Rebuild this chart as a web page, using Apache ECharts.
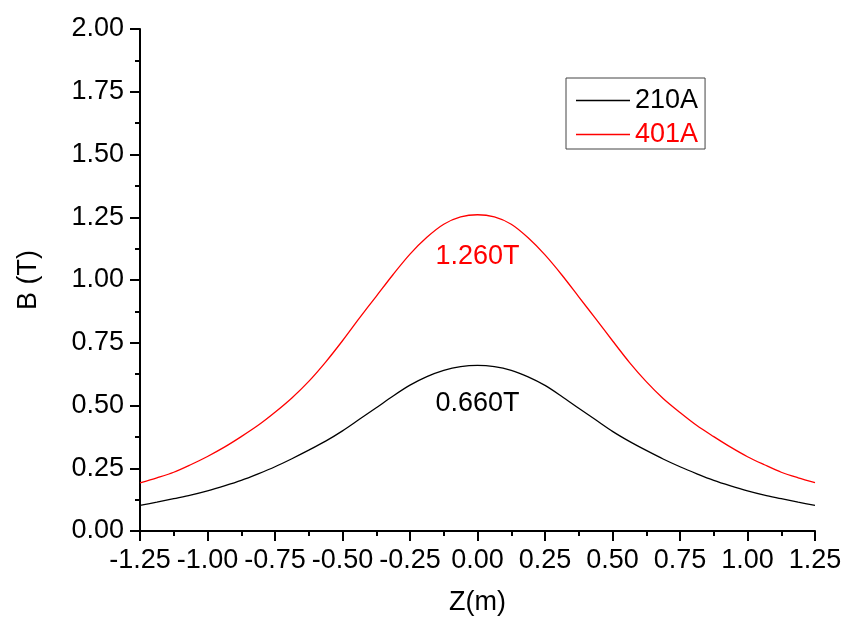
<!DOCTYPE html>
<html>
<head>
<meta charset="utf-8">
<script src="https://cdn.jsdelivr.net/npm/echarts@6/dist/echarts.min.js"></script>
<style>
html,body{margin:0;padding:0;background:#fff;}
#chart{width:846px;height:621px;}
</style>
</head>
<body>
<div id="chart"></div>
<script>
// Data
var zValues = [-1.25, -1.1875, -1.125, -1.0625, -1.0, -0.9375, -0.875, -0.8125, -0.75, -0.6875, -0.625, -0.5625, -0.5, -0.4375, -0.375, -0.3125, -0.25, -0.1875, -0.125, -0.0625, 0.0,
               0.0625, 0.125, 0.1875, 0.25, 0.3125, 0.375, 0.4375, 0.5, 0.5625, 0.625, 0.6875, 0.75, 0.8125, 0.875, 0.9375, 1.0, 1.0625, 1.125, 1.1875, 1.25];
var b210 = [0.102, 0.115, 0.129, 0.143, 0.160, 0.180, 0.202, 0.228, 0.256, 0.288, 0.322, 0.358, 0.399, 0.445, 0.491, 0.538, 0.581, 0.615, 0.640, 0.655, 0.660,
            0.655, 0.640, 0.614, 0.580, 0.536, 0.489, 0.443, 0.397, 0.357, 0.321, 0.287, 0.256, 0.228, 0.202, 0.180, 0.160, 0.143, 0.129, 0.115, 0.102];
var b401 = [0.192, 0.212, 0.234, 0.264, 0.297, 0.334, 0.376, 0.421, 0.473, 0.530, 0.596, 0.673, 0.758, 0.848, 0.935, 1.022, 1.103, 1.170, 1.222, 1.251, 1.260,
            1.251, 1.222, 1.168, 1.100, 1.020, 0.933, 0.846, 0.758, 0.672, 0.595, 0.528, 0.472, 0.420, 0.376, 0.334, 0.296, 0.264, 0.234, 0.212, 0.193];
var seriesNames = ['210A', '401A'];
var peakZ = 0.0;
var peak210 = 0.660;
var peak401 = 1.260;
var peakLabels = ['0.660T', '1.260T'];
var xTicks = {min: -1.25, max: 1.25, interval: 0.25};
var yTicks = {min: 0, max: 2, interval: 0.25};

var FONT = "'Liberation Sans', Arial, sans-serif";
var FS = 27;
function pairs(xs, ys) { return xs.map(function (x, i) { return [x, ys[i]]; }); }

var chart = echarts.init(document.getElementById('chart'), null, {renderer: 'canvas'});
var axisCommon = {
  type: 'value',
  splitLine: {show: false},
  axisLine: {show: true, onZero: false, lineStyle: {color: '#000', width: 2}},
  axisTick: {show: true, inside: false, length: 10, lineStyle: {color: '#000', width: 2}},
  minorTick: {show: true, splitNumber: 2, length: 5, lineStyle: {color: '#000', width: 2}},
  axisLabel: {color: '#000', fontSize: FS, fontFamily: FONT, formatter: function (v) { return v.toFixed(2); }},
  nameTextStyle: {color: '#000', fontSize: FS, fontFamily: FONT},
  nameLocation: 'middle'
};
chart.setOption({
  animation: false,
  backgroundColor: '#fff',
  grid: {left: 140, right: 31, top: 29, bottom: 90, containLabel: false},
  legend: {
    left: 566, top: 78,
    orient: 'vertical',
    padding: [9, 7, 1, 10],
    itemGap: 7,
    itemWidth: 54, itemHeight: 1.5,
    icon: 'rect',
    borderColor: '#444', borderWidth: 1,
    textStyle: {fontSize: FS, fontFamily: FONT},
    data: [
      {name: seriesNames[0], textStyle: {color: '#000'}},
      {name: seriesNames[1], textStyle: {color: '#ff0000'}}
    ]
  },
  xAxis: Object.assign({}, axisCommon, {
    min: xTicks.min, max: xTicks.max, interval: xTicks.interval,
    name: 'Z(m)', nameGap: 58,
    axisLabel: Object.assign({}, axisCommon.axisLabel, {margin: 16})
  }),
  yAxis: Object.assign({}, axisCommon, {
    min: yTicks.min, max: yTicks.max, interval: yTicks.interval,
    name: 'B (T)', nameGap: 98,
    axisLabel: Object.assign({}, axisCommon.axisLabel, {margin: 16})
  }),
  series: [
    {
      name: seriesNames[0], type: 'line', smooth: 0.3, symbol: 'none',
      data: pairs(zValues, b210),
      lineStyle: {color: '#000', width: 1.3},
      itemStyle: {color: '#000'},
      markPoint: {
        symbol: 'circle', symbolSize: 1, itemStyle: {color: 'rgba(0,0,0,0)'},
        label: {show: true, position: 'inside', offset: [0, 38], color: '#000', fontSize: FS, fontFamily: FONT, formatter: function (p) { return p.name; }},
        data: [{name: peakLabels[0], coord: [peakZ, peak210]}]
      }
    },
    {
      name: seriesNames[1], type: 'line', smooth: 0.3, symbol: 'none',
      data: pairs(zValues, b401),
      lineStyle: {color: '#ff0000', width: 1.3},
      itemStyle: {color: '#ff0000'},
      markPoint: {
        symbol: 'circle', symbolSize: 1, itemStyle: {color: 'rgba(0,0,0,0)'},
        label: {show: true, position: 'inside', offset: [0, 42], color: '#ff0000', fontSize: FS, fontFamily: FONT, formatter: function (p) { return p.name; }},
        data: [{name: peakLabels[1], coord: [peakZ, peak401]}]
      }
    }
  ]
});
</script>
</body>
</html>
